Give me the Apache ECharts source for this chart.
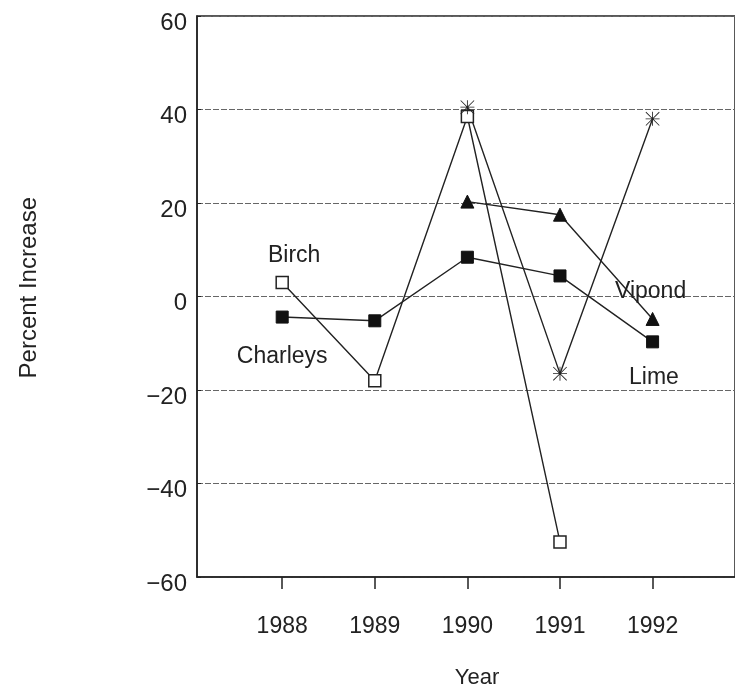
<!DOCTYPE html>
<html>
<head>
<meta charset="utf-8">
<script src="https://cdn.jsdelivr.net/npm/echarts@6/dist/echarts.min.js"></script>
<style>html,body{margin:0;padding:0;background:#fff;}#c{width:735px;height:694px;}</style>
</head>
<body>
<div id="c"></div>
<script>
var years = [1988, 1989, 1990, 1991, 1992];
var yTicks = [-60, -40, -20, 0, 20, 40, 60];
var birch = [3, -18, 38.5, -52.5, null];
var charleys = [-4.4, -5.2, 8.4, 4.4, -9.7];
var vipond = [null, null, 20.3, 17.5, -4.8];
var lime = [null, null, 40.5, -16.5, 38];

function pairs(vals) {
  var out = [];
  for (var i = 0; i < years.length; i++) {
    if (vals[i] !== null) out.push([years[i], vals[i]]);
  }
  return out;
}

var asterisk = 'path://M9.4 0 L10.6 0 L10.6 20 L9.4 20 Z M0 9.4 L20 9.4 L20 10.6 L0 10.6 Z M0.8 0 L20 19.2 L19.2 20 L0 0.8 Z M19.2 0 L20 0.8 L0.8 20 L0 19.2 Z';
var FONT = 'Liberation Sans';
var INK = '#222';

function withLabel(data, idx, text, offset) {
  return data.map(function (d) {
    if (d[0] === years[idx]) {
      return {
        value: d,
        label: {
          show: true, formatter: text, position: 'inside', offset: offset,
          fontFamily: FONT, fontSize: 23, color: INK
        }
      };
    }
    return d;
  });
}

var chart = echarts.init(document.getElementById('c'), null, {renderer: 'canvas'});
var lineStyle = {color: INK, width: 1.4};
chart.setOption({
  animation: false,
  backgroundColor: '#fff',
  grid: {left: 197, top: 16, bottom: 116, right: -5, show: true, borderColor: INK, borderWidth: 1.5, containLabel: false},
  graphic: [{
    type: 'text', left: 17, top: 197, rotation: Math.PI / 2,
    style: {text: 'Percent Increase', fontFamily: FONT, fontSize: 24, fill: INK}
  }],
  xAxis: {
    type: 'value', min: 1987.08, max: 1992.89,
    name: 'Year', nameLocation: 'middle', nameGap: 90,
    nameTextStyle: {fontFamily: FONT, fontSize: 22, color: INK, padding: [0, 0, 0, 22]},
    axisLine: {show: true, onZero: false, lineStyle: {color: INK, width: 1.5}},
    axisTick: {show: true, customValues: years, length: 12, lineStyle: {color: INK, width: 1.5}},
    axisLabel: {customValues: years, margin: 38, fontFamily: FONT, fontSize: 23, color: INK, formatter: function (v) { return String(v); }},
    splitLine: {show: false}
  },
  yAxis: {
    type: 'value', min: -60, max: 60, interval: 20,
    axisLine: {show: true, onZero: false, lineStyle: {color: INK, width: 1.5}},
    axisTick: {show: true, inside: true, length: 4, lineStyle: {color: INK}},
    axisLabel: {margin: 10, fontFamily: FONT, fontSize: 24, color: INK, verticalAlign: 'top', lineHeight: 14,
      formatter: function (v) { return v < 0 ? '\u2212' + Math.abs(v) : String(v); }},
    splitLine: {show: true, lineStyle: {color: '#666', width: 1, type: [6, 2]}}
  },
  series: [
    {name: 'Birch', type: 'line', data: withLabel(pairs(birch), 0, 'Birch', [12, -27]),
      symbol: 'rect', symbolSize: 12, itemStyle: {color: '#fff', borderColor: INK, borderWidth: 1.5},
      lineStyle: lineStyle, z: 3},
    {name: 'Charleys', type: 'line', data: withLabel(pairs(charleys), 0, 'Charleys', [0, 40]),
      symbol: 'rect', symbolSize: 12, itemStyle: {color: '#111', borderColor: '#111', borderWidth: 1},
      lineStyle: lineStyle, z: 3},
    {name: 'Vipond', type: 'line', data: withLabel(pairs(vipond), 4, 'Vipond', [-2, -27]),
      symbol: 'triangle', symbolSize: 13, itemStyle: {color: '#111', borderColor: '#111'},
      lineStyle: lineStyle, z: 3},
    {name: 'Lime', type: 'line', data: withLabel(pairs(lime), 3, 'Lime', [94, 4]),
      symbol: asterisk, symbolSize: 14, itemStyle: {color: INK},
      lineStyle: lineStyle, z: 3}
  ]
});
</script>
</body>
</html>
